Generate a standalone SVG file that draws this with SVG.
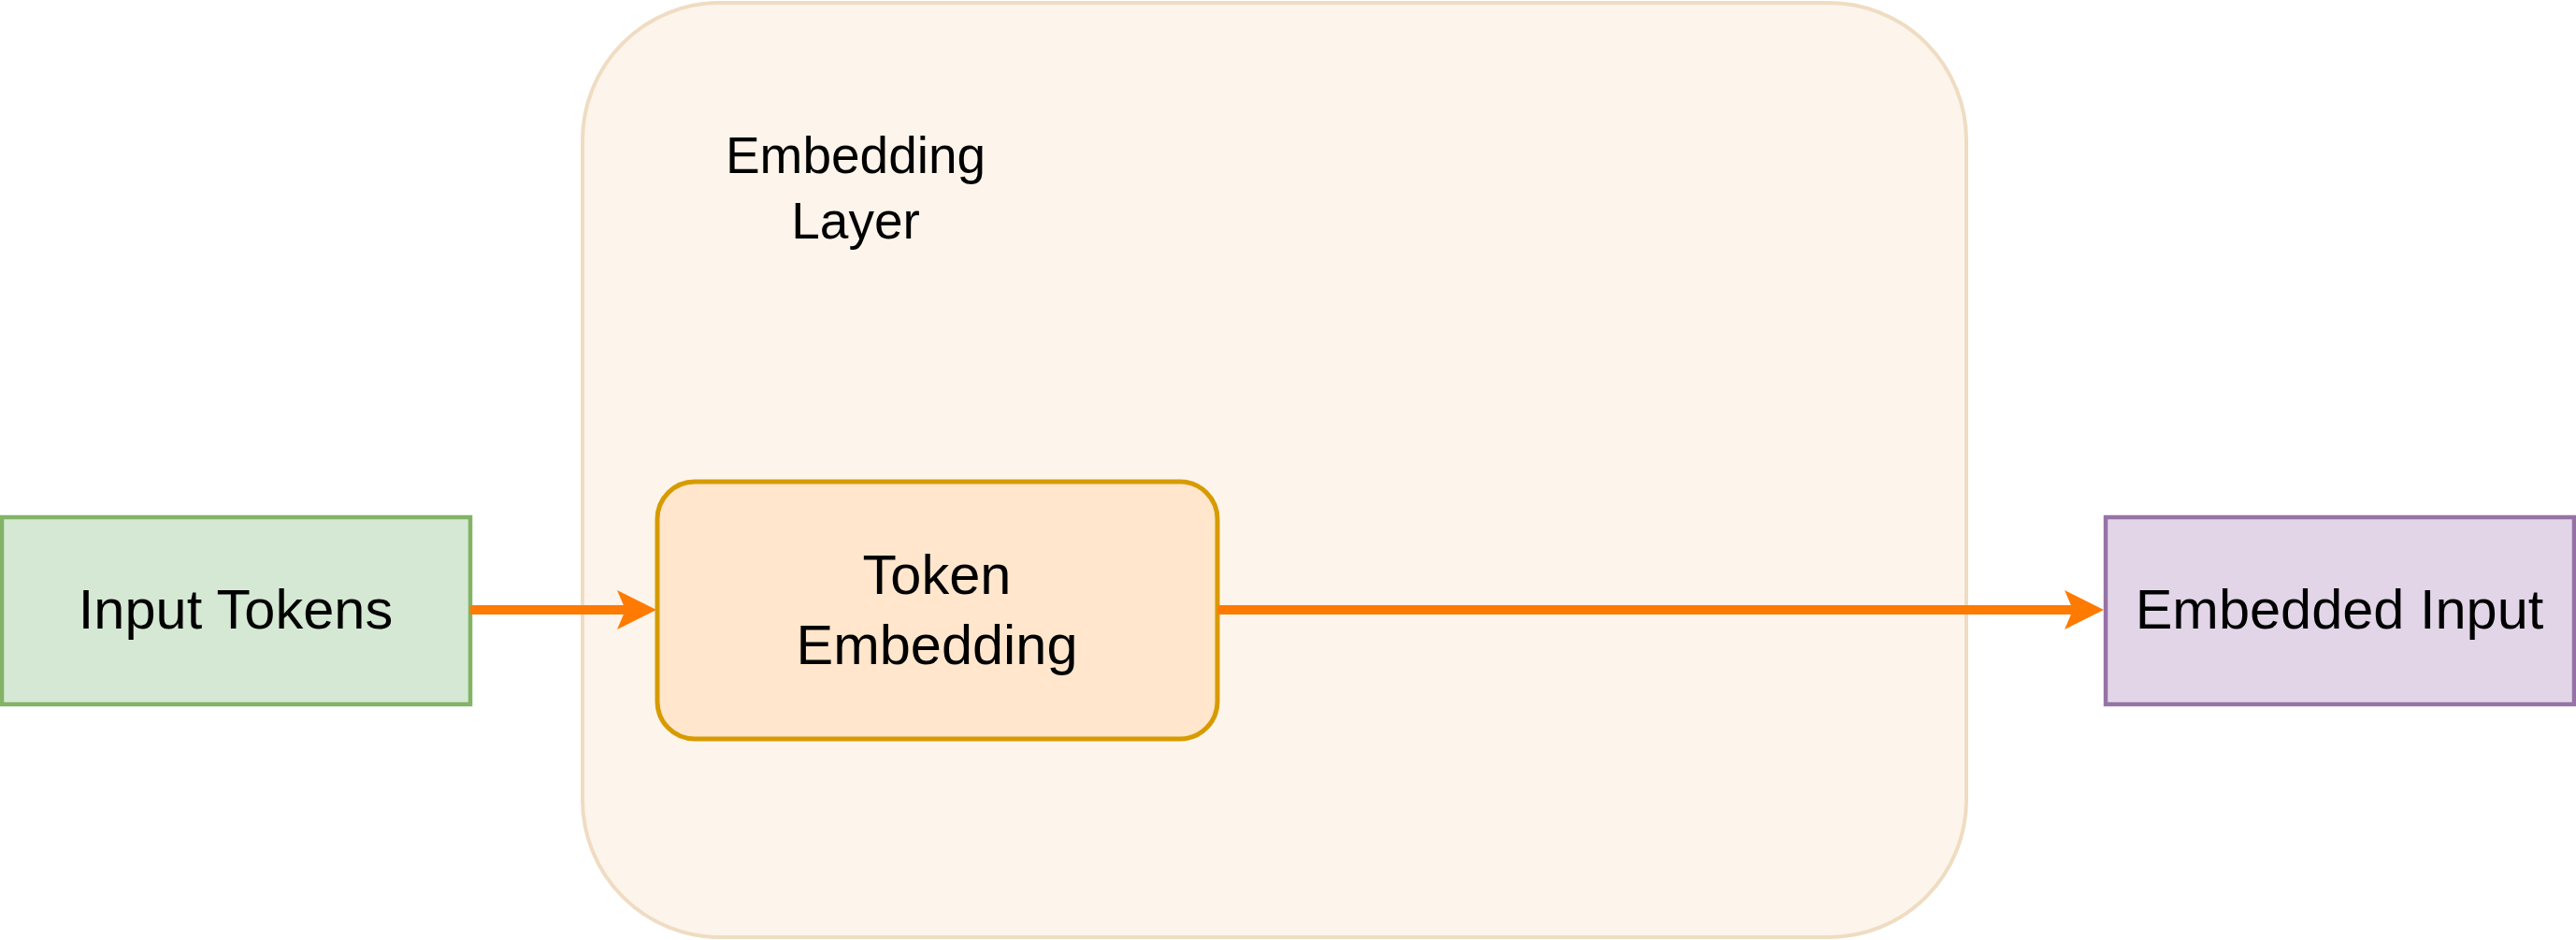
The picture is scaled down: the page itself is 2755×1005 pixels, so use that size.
<svg xmlns="http://www.w3.org/2000/svg" width="2755" height="1005" viewBox="0 0 2755 1005">
<style>
.t{font-family:"Liberation Sans",Arial,Helvetica,sans-serif;fill:#000;text-anchor:middle}
.big{font-size:59.5px}
.mid{font-size:55px}
.conn{fill:none;stroke:#ff7a00;stroke-width:10}
</style>
<defs>
<marker id="arr" markerUnits="userSpaceOnUse" markerWidth="46" markerHeight="46" refX="9" refY="21" orient="auto" overflow="visible">
<path d="M0,0 L42,21 L0,42 L9,21 Z" fill="#ff7a00"/>
</marker>
</defs>
<rect width="2755" height="1005" fill="#ffffff"/>
<g id="embedding-layer">
<rect x="623" y="3" width="1480" height="999" rx="147" ry="147" fill="#fdf5eb" stroke="#efdcc2" stroke-width="4"/>
<text class="t mid" x="915" y="185">Embedding</text>
<text class="t mid" x="915" y="255">Layer</text>
</g>
<g id="input-tokens">
<rect x="2" y="553" width="501" height="200" fill="#d5e8d4" stroke="#82b366" stroke-width="4.5"/>
<text class="t big" x="252" y="672">Input Tokens</text>
</g>
<g id="token-embedding">
<rect x="703" y="515" width="599" height="275" rx="40" ry="40" fill="#ffe6cc" stroke="#d79b00" stroke-width="5"/>
<text class="t big" x="1002" y="635">Token</text>
<text class="t big" x="1002" y="710">Embedding</text>
</g>
<g id="embedded-input">
<rect x="2252" y="553" width="501" height="200" fill="#e1d5e7" stroke="#9673a6" stroke-width="4.5"/>
<text class="t big" x="2502" y="672">Embedded Input</text>
</g>
<g id="connectors">
<path class="conn" d="M503,652 L669,652" marker-end="url(#arr)"/>
<path class="conn" d="M1302,652 L2217,652" marker-end="url(#arr)"/>
</g>
</svg>
